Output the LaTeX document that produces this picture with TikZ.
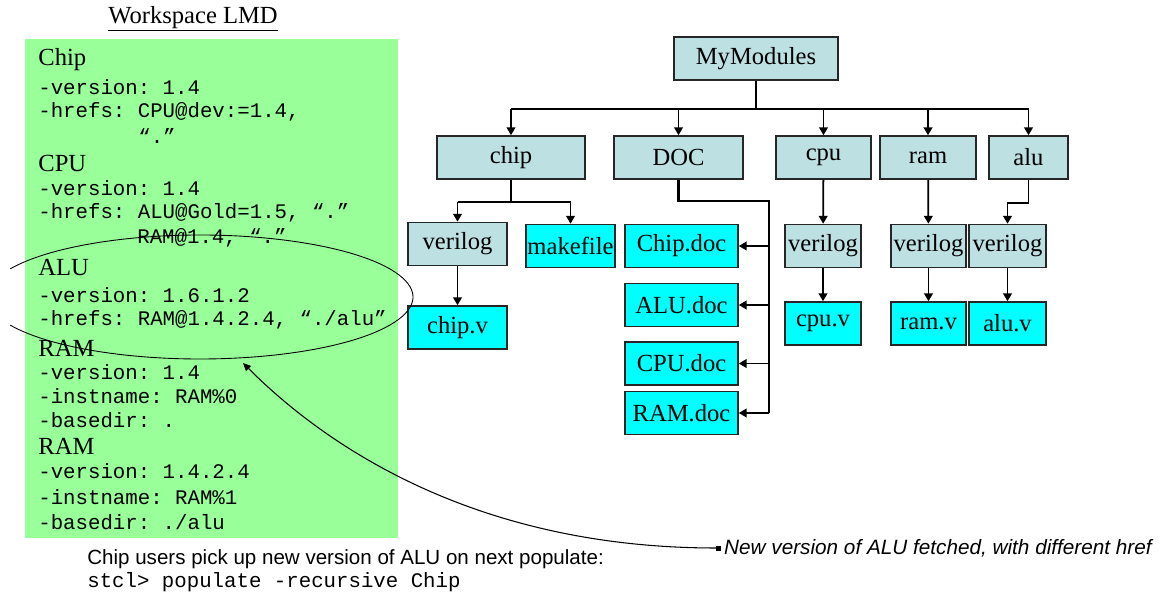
\documentclass[tikz,border=0pt]{standalone}
\usepackage{fontspec}
\setmainfont{Liberation Serif}
\setsansfont{Liberation Sans}
\setmonofont{Liberation Mono}
\usetikzlibrary{arrows.meta}

\definecolor{dirfill}{RGB}{189,224,226}
\definecolor{filefill}{RGB}{0,255,255}
\definecolor{panelfill}{RGB}{153,255,153}

\tikzset{
  dir/.style={draw=black!85, line width=0.9pt, fill=dirfill, inner sep=0pt,
    minimum height=0.86cm, font=\fontsize{14}{16}\selectfont},
  file/.style={dir, fill=filefill},
  wire/.style={line width=1pt},
  link/.style={wire, -{Triangle[length=4.5pt,width=5pt]}},
  heading/.style={anchor=west, inner sep=0pt, font=\fontsize{14}{16}\selectfont},
  code/.style={anchor=west, inner sep=0pt, font=\ttfamily\fontsize{11.8}{14}\selectfont},
}

\begin{document}
\begin{tikzpicture}[x=0.02cm, y=-0.02cm]
  \useasboundingbox (0,0) rectangle (1160,597);

  % workspace panel
  \node[font=\fontsize{14}{16}\selectfont] (ws) at (193,19) {\underline{Workspace LMD}};
  \fill[panelfill] (25,39) rectangle (398,538);
  \foreach \y/\t [count=\i] in {60/Chip, 163/CPU, 268/ALU, 348/RAM, 446/RAM}
    \node[heading] (head\i) at (38,\y) {\t};
  \foreach \x/\y/\t [count=\i] in {
      38/87/{-version: 1.4},
      38/112/{-hrefs: CPU@dev:=1.4,},
      138/136/{“.”},
      38/188/{-version: 1.4},
      38/213/{-hrefs: ALU@Gold=1.5, “.”},
      137/238/{RAM@1.4, “.”},
      38/295/{-version: 1.6.1.2},
      38/320/{-hrefs: RAM@1.4.2.4, “./alu”},
      38/372/{-version: 1.4},
      38/396/{-instname: RAM\%0},
      38/420/{-basedir: .},
      38/471/{-version: 1.4.2.4},
      38/497/{-instname: RAM\%1},
      38/522/{-basedir: ./alu}}
    \node[code] (line\i) at (\x,\y) {\t};

  % module tree
  \node[dir, minimum width=3.28cm] (mods) at (756,58.5) {MyModules};
  \node[dir, minimum width=2.96cm] (chip) at (511,157.5) {chip};
  \node[dir, minimum width=2.58cm] (doc) at (678.5,157.5) {DOC};
  \node[dir, minimum width=1.9cm] (cpu) at (823.5,157.5) {cpu};
  \node[dir, minimum width=1.92cm] (ram) at (928,157.5) {ram};
  \node[dir, minimum width=1.58cm] (alu) at (1028.5,157.5) {alu};

  \node[dir, minimum width=1.98cm] (chipver) at (457.5,244) {verilog};
  \node[file, minimum width=1.78cm] (make) at (570.5,246) {makefile};
  \node[file, minimum width=1.98cm] (chipv) at (457.5,327.5) {chip.v};

  \node[file, minimum width=2.26cm] (chipdoc) at (681.5,246) {Chip.doc};
  \node[file, minimum width=2.26cm] (aludoc) at (681.5,305) {ALU.doc};
  \node[file, minimum width=2.26cm] (cpudoc) at (681.5,363.5) {CPU.doc};
  \node[file, minimum width=2.26cm] (ramdoc) at (681.5,413) {RAM.doc};

  \node[dir, minimum width=1.52cm] (cpuver) at (823,246) {verilog};
  \node[file, minimum width=1.52cm] (cpuv) at (823,323.5) {cpu.v};
  \node[dir, minimum width=1.5cm] (ramver) at (928.5,246) {verilog};
  \node[file, minimum width=1.5cm] (ramv) at (928.5,323.5) {ram.v};
  \node[dir, minimum width=1.54cm] (aluver) at (1007.5,246) {verilog};
  \node[file, minimum width=1.54cm] (aluv) at (1007.5,323.5) {alu.v};

  \draw[wire] (mods.south) -- ++(0,28) coordinate (bus);
  \draw[wire] (chip.north |- bus) -- (alu.north |- bus);
  \foreach \n in {chip,doc,cpu,ram,alu}
    \draw[link] (\n.north |- bus) -- (\n.north);

  \draw[wire] (chip.south) -- ++(0,22) coordinate (cfork);
  \draw[wire] (chipver.north |- cfork) -- (make.north |- cfork);
  \draw[link] (chipver.north |- cfork) -- (chipver.north);
  \draw[link] (make.north |- cfork) -- (make.north);
  \draw[link] (chipver) -- (chipv);

  \coordinate (dcorner) at (769,201);
  \draw[line width=1.5pt] (doc.south) |- (dcorner) -- (dcorner |- ramdoc.east);
  \foreach \d in {chipdoc,aludoc,cpudoc,ramdoc}
    \draw[link] (dcorner |- \d.east) -- (\d.east);

  \draw[link] (cpu) -- (cpuver);
  \draw[link] (cpuver) -- (cpuv);
  \draw[link] (ram) -- (ramver);
  \draw[link] (ramver) -- (ramv);
  \draw[link] (alu.south) -- ++(0,23) -| (aluver.north);
  \draw[link] (aluver) -- (aluv);

  % ring round the ALU entry
  \draw[line width=0.5pt] (200,297) ++(153:4.26cm and 1.24cm)
    arc[start angle=153, end angle=-153, x radius=4.26cm, y radius=1.24cm];

  % note and its pointer
  \node[anchor=west, inner sep=0pt, font=\sffamily\itshape\fontsize{11.8}{14}\selectfont]
    (note) at (716,548) {\rule[2pt]{2.5pt}{2.5pt}\,New version of ALU fetched, with different href};
  \coordinate (hit) at (243,363);
  \draw[line width=0.6pt, -{Triangle[length=4.5pt,width=4pt]}]
    (note.west) .. controls (480,548) and (330,450) .. (hit);

  \node[anchor=west, inner sep=0pt, font=\sffamily\fontsize{11.7}{14}\selectfont]
    (users) at (87,559) {Chip users pick up new version of ALU on next populate:};
  \node[code] (cmd) at (87,582) {stcl> populate -recursive Chip};
\end{tikzpicture}
\end{document}
